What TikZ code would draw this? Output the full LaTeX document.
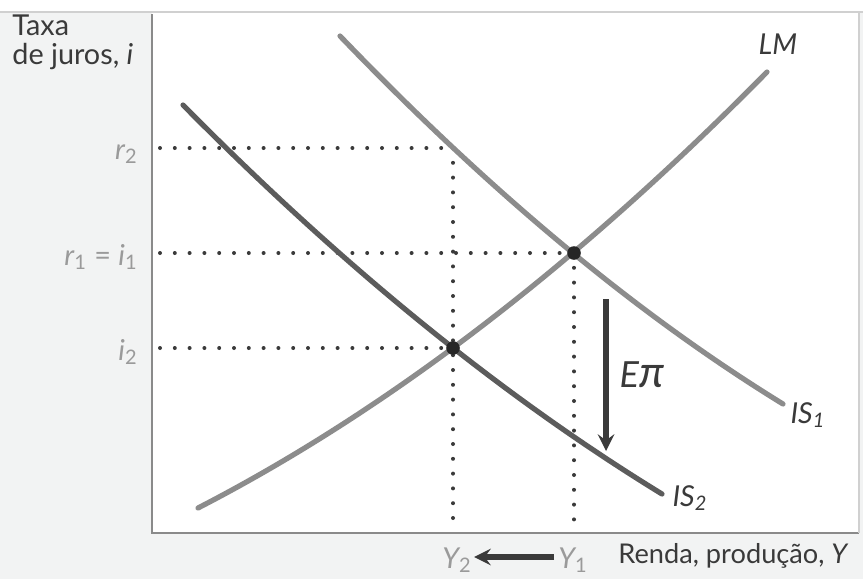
\documentclass[tikz,border=0pt]{standalone}
\usepackage{fontspec}
\setmainfont{Lato}
\usepackage{tikz}
\usetikzlibrary{positioning, arrows.meta}
\definecolor{panel}{HTML}{F2F3F3}
\definecolor{lightcurve}{HTML}{8C8C8C}
\definecolor{darkcurve}{HTML}{5C5C5C}
\definecolor{axisgray}{HTML}{8A8A8A}
\definecolor{ticktext}{HTML}{9A9A9A}
\definecolor{ink}{HTML}{3A3A3A}

\begin{document}
\begin{tikzpicture}[
    x=0.5pt, y=-0.5pt,
    >=stealth,
    curve/.style={line width=2.6pt, line cap=round},
    dotline/.style={ink, line width=2pt, line cap=round, dash pattern=on 0pt off 7.4pt},
    eqdot/.style={circle, fill=black!85, inner sep=0pt, minimum size=6.8pt},
    lbl/.style={font=\fontsize{14.4}{14.8}\selectfont, inner sep=1pt},
    ticklbl/.style={lbl, text=ticktext, anchor=east}
]

% Background and plot area
\fill[white] (0,0) rectangle (863,579);
\fill[panel] (0,12) rectangle (863,579);
\fill[white] (152,12) rectangle (859,532);
\useasboundingbox (0,0) rectangle (863,579);

% Axes
\draw[axisgray, line width=1pt] (152,14) -- (152,533) -- (859,533);
\draw[axisgray!40, line width=0.6pt] (0,12) -- (863,12);
\draw[axisgray!40, line width=0.6pt] (859,12) -- (859,533);

% Key points
\coordinate (E1) at (574,253);
\coordinate (E2) at (453,348);
\coordinate (P2) at (453,148);
\coordinate (r2ax) at (160,148);
\coordinate (r1ax) at (160,253);
\coordinate (i2ax) at (160,348);
\coordinate (Y2ax) at (453,532);
\coordinate (Y1ax) at (574,532);

% Dotted guide lines
\draw[dotline] (r2ax) -- (P2);
\draw[dotline] (r1ax) -- (E1);
\draw[dotline] (i2ax) -- (E2);
\draw[dotline] (P2) -- (Y2ax);
\draw[dotline] (E1) -- (Y1ax);

% Curves (parabolic arcs)
\draw[curve, lightcurve] (198,508) .. controls (388,410) and (577,265) .. (767,72);
\draw[curve, lightcurve] (340,36) .. controls (488,190) and (635,313) .. (783,404);
\draw[curve, darkcurve] (183,105) .. controls (343,267) and (502,396) .. (662,494);

% Equilibria
\node[eqdot] (eq1) at (E1) {};
\node[eqdot] (eq2) at (E2) {};

% Shift arrow
\coordinate (shtop) at (606,299);
\coordinate (shbot) at (606,451);
\draw[->, ink, line width=2.6pt] (shtop) -- (shbot);
\node[lbl, text=ink] (epi) at (642,375) {\fontsize{18}{20}\selectfont\itshape E\fontsize{22}{22}\selectfont π};

% Curve labels
\node[lbl, text=ink] (lm) at (778,44) {\itshape LM};
\node[lbl, text=ink] (is1) at (808,415) {\itshape IS\textsubscript{1}};
\node[lbl, text=ink] (is2) at (690,498) {\itshape IS\textsubscript{2}};

% Vertical axis
\node[lbl, text=ink, align=left, anchor=north west] (vtitle) at (10,12) {Taxa\\de juros, \itshape i};
\node[ticklbl] (r2) at (140,154) {\itshape r\textsubscript{\upshape 2}};
\node[ticklbl] (r1) at (140,257) {\itshape r\textsubscript{\upshape 1}\upshape{} = \itshape i\textsubscript{\upshape 1}};
\node[ticklbl] (i2) at (140,352) {\itshape i\textsubscript{\upshape 2}};

% Horizontal axis
\node[lbl, text=ticktext] (Y2) at (457,560) {\itshape Y\textsubscript{\upshape 2}};
\node[lbl, text=ticktext, anchor=west] (Y1) at (556,560) {\itshape Y\textsubscript{\upshape 1}};
\draw[->, ink, line width=2.6pt] (Y1.west) ++(-2,-3) coordinate (yarr) -- (Y2.east |- yarr);
\node[lbl, text=ink, anchor=west, font=\fontsize{13.6}{14}\selectfont] (htitle) at (616,556) {Renda, produção, \itshape Y};

\end{tikzpicture}
\end{document}
